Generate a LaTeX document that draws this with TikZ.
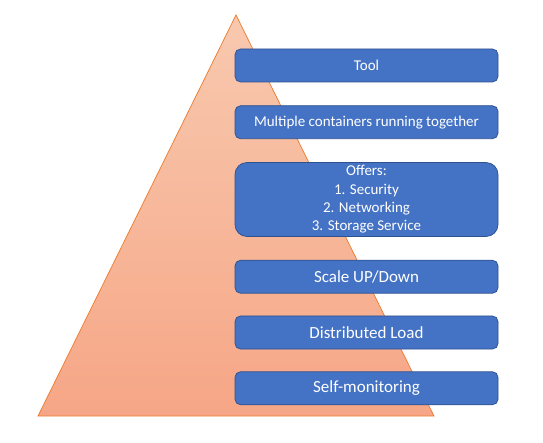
\documentclass[tikz,border=0pt]{standalone}
\usepackage{fontspec}
\usepackage{xcolor}
\usepackage{tikz}
\usetikzlibrary{positioning}
\newfontfamily\boxfont{Carlito}
\definecolor{boxfill}{RGB}{68,114,196}
\definecolor{boxline}{RGB}{47,82,143}
\definecolor{pyrtop}{RGB}{248,201,175}
\definecolor{pyrbottom}{RGB}{246,166,134}
\definecolor{pyrline}{RGB}{237,125,49}

\begin{document}
\begin{tikzpicture}[
    x=1pt, y=-1pt,
    node distance=23pt,
    stage/.style={rectangle, draw=boxline, line width=0.75pt, fill=boxfill, rounded corners=5.5pt, minimum width=263pt, minimum height=33pt, inner sep=0pt, align=center, text=white, font=\boxfont\fontsize{15}{18.3}\selectfont},
    bigstage/.style={stage, font=\boxfont\fontsize{17}{20}\selectfont},
]
\useasboundingbox (0,0) rectangle (543,443);

% === PYRAMID ===
\coordinate (apex) at (236,15);
\coordinate (baseL) at (38,416);
\coordinate (baseR) at (434,416);
\shade[top color=pyrtop, bottom color=pyrbottom, draw=pyrline, line width=0.75pt] (apex) -- (baseL) -- (baseR) -- cycle;

% === STAGES ===
\node[stage] (tool) at (366.5,65.5) {Tool};
\node[stage, below=of tool] (multi) {Multiple containers running together};
\node[stage, below=of multi, minimum height=74pt, rounded corners=12pt] (offers) {Offers:\\1. Security\\2. Networking\\3. Storage Service};
\node[bigstage, below=of offers] (scale) {Scale UP/Down};
\node[bigstage, below=22pt of scale] (load) {Distributed Load};
\node[bigstage, below=22pt of load] (monitor) {Self-monitoring};

\end{tikzpicture}
\end{document}
